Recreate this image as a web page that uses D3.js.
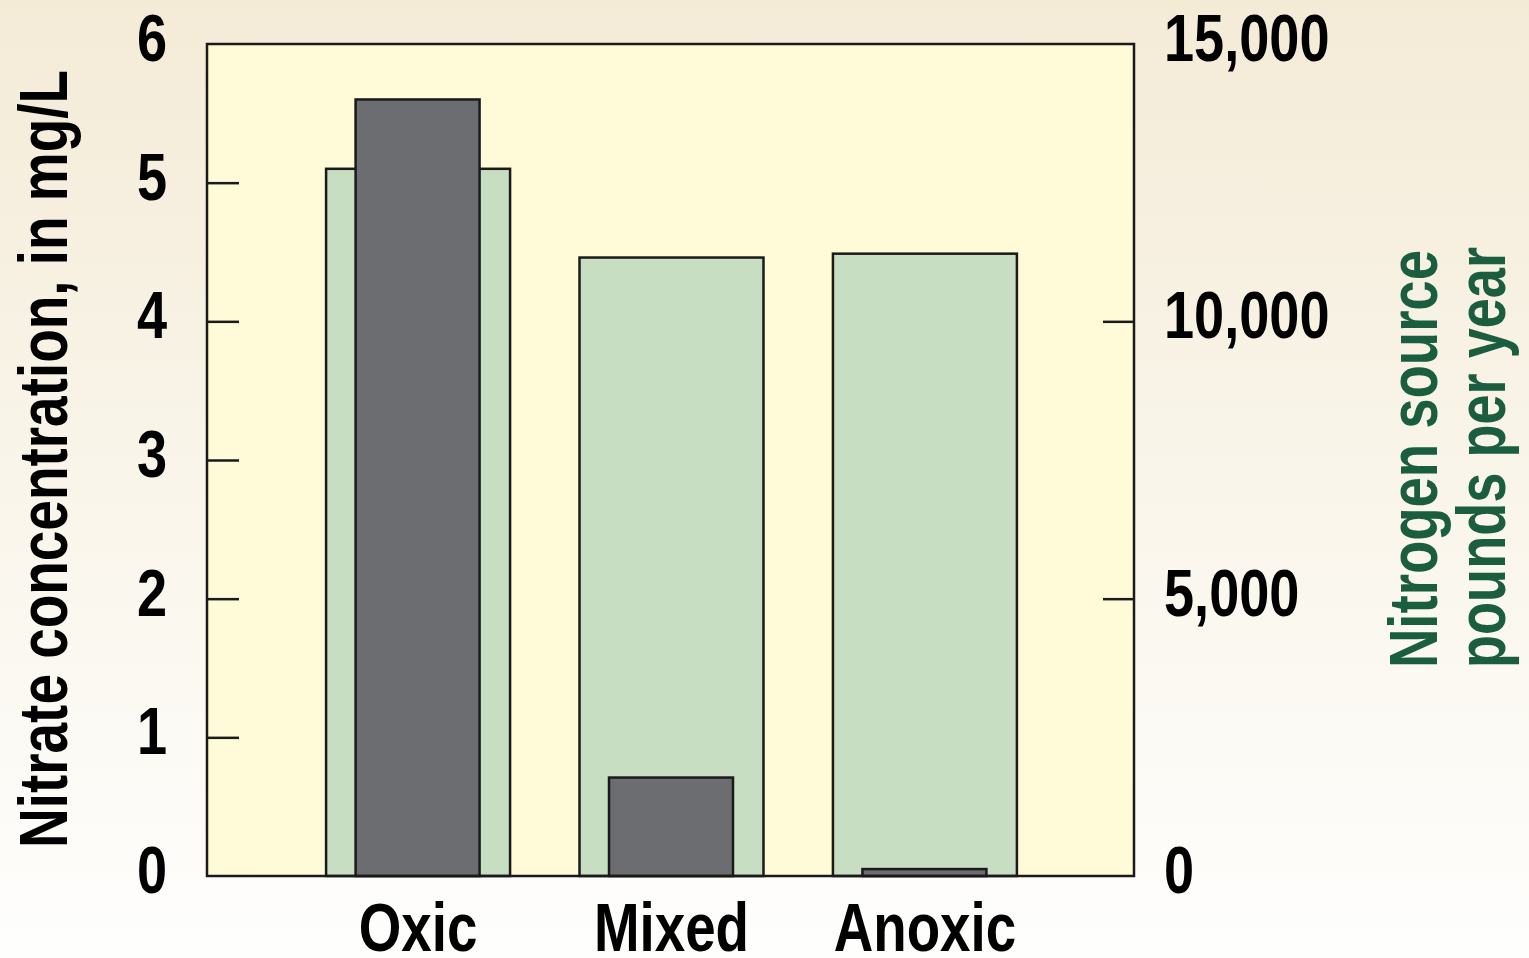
<!DOCTYPE html>
<html><head><meta charset="utf-8">
<script src="https://cdn.jsdelivr.net/npm/d3@7"></script>
<style>
html,body{margin:0;padding:0;}
svg{display:block;}
text{font-family:"Liberation Sans Narrow","Arial Narrow","Liberation Sans",Arial,sans-serif;font-weight:bold;}
</style></head>
<body>
<script>
const categories = ["Oxic", "Mixed", "Anoxic"];
const nitrogenSource = [12750, 11150, 11220];   // pounds per year (right axis)
const nitrateConc = [5.6, 0.71, 0.05];          // mg/L (left axis)
const leftTicks = [0, 1, 2, 3, 4, 5, 6];
const rightTicks = [0, 5000, 10000, 15000];

const W = 1529, H = 958;
const m = {l: 207, r: 1134, t: 44, b: 876};

const svg = d3.select("body").append("svg").attr("width", W).attr("height", H);
const defs = svg.append("defs");
const g = defs.append("linearGradient").attr("id","bg").attr("x1",0).attr("y1",0).attr("x2",0).attr("y2",1);
g.append("stop").attr("offset","0%").attr("stop-color","#f4ebd7");
g.append("stop").attr("offset","55%").attr("stop-color","#faf6ec");
g.append("stop").attr("offset","100%").attr("stop-color","#fefefd");
svg.append("rect").attr("width",W).attr("height",H).attr("fill","url(#bg)");

const x = d3.scaleBand().domain(categories).range([m.l, m.r]).paddingInner(0.274).paddingOuter(0.466);
const yL = d3.scaleLinear().domain([0, 6]).range([m.b, m.t]);
const yR = d3.scaleLinear().domain([0, 15000]).range([m.b, m.t]);

// plot area
svg.append("rect").attr("x", m.l).attr("y", m.t).attr("width", m.r - m.l).attr("height", m.b - m.t)
  .attr("fill", "#fffad8");

// green bars
svg.append("g").selectAll("rect").data(categories).join("rect")
  .attr("x", d => x(d) + 1)
  .attr("width", x.bandwidth())
  .attr("y", (d,i) => yR(nitrogenSource[i]))
  .attr("height", (d,i) => m.b - yR(nitrogenSource[i]))
  .attr("fill", "#c8dec3").attr("stroke", "#1a1a1a").attr("stroke-width", 2.5);

// grey bars
const gw = x.bandwidth() * 124 / 184;
svg.append("g").selectAll("rect").data(categories).join("rect")
  .attr("x", d => x(d) + (x.bandwidth() - gw) / 2 + 0.5)
  .attr("width", gw)
  .attr("y", (d,i) => yL(nitrateConc[i]))
  .attr("height", (d,i) => m.b - yL(nitrateConc[i]))
  .attr("fill", "#6c6d71").attr("stroke", "#1a1a1a").attr("stroke-width", 2.5);

// frame
svg.append("rect").attr("x", m.l).attr("y", m.t).attr("width", m.r - m.l).attr("height", m.b - m.t)
  .attr("fill", "none").attr("stroke", "#1a1a1a").attr("stroke-width", 2.5);

// left axis
const axL = d3.axisRight(yL).tickValues(leftTicks).tickSize(32).tickFormat("");
const gL = svg.append("g").attr("transform", `translate(${m.l},0)`).call(axL);
gL.select(".domain").remove();
gL.selectAll(".tick line").attr("stroke", "#1a1a1a").attr("stroke-width", 2.5)
  .filter(d => d === 0 || d === 6).remove();
svg.append("g").selectAll("text").data(leftTicks).join("text")
  .attr("transform", d => `translate(167,${yL(d) - 6}) scale(0.82,1)`)
  .attr("dy", "0.35em")
  .attr("text-anchor", "end").attr("font-size", 66).attr("fill", "#000")
  .text(d => d);

// right axis
const axR = d3.axisLeft(yR).tickValues(rightTicks).tickSize(31).tickFormat("");
const gR = svg.append("g").attr("transform", `translate(${m.r},0)`).call(axR);
gR.select(".domain").remove();
gR.selectAll(".tick line").attr("stroke", "#1a1a1a").attr("stroke-width", 2.5)
  .filter(d => d === 0 || d === 15000).remove();
svg.append("g").selectAll("text").data(rightTicks).join("text")
  .attr("transform", d => `translate(1164,${yR(d) - 6}) scale(0.82,1)`)
  .attr("dy", "0.35em")
  .attr("text-anchor", "start").attr("font-size", 66).attr("fill", "#000")
  .text(d => d3.format(",")(d));

// x labels
svg.append("g").selectAll("text").data(categories).join("text")
  .attr("transform", d => `translate(${x(d) + x.bandwidth() / 2 + 1},951) scale(0.805,1)`)
  .attr("text-anchor", "middle").attr("font-size", 68).attr("fill", "#000")
  .text(d => d);

// left title
svg.append("text").attr("transform", "translate(67,459) rotate(-90)")
  .attr("text-anchor", "middle").attr("font-size", 68).attr("fill", "#000")
  .attr("textLength", 778).attr("lengthAdjust", "spacingAndGlyphs")
  .text("Nitrate concentration, in mg/L");

// right title
svg.append("text").attr("transform", "translate(1437,668) rotate(-90)")
  .attr("text-anchor", "start").attr("font-size", 68).attr("fill", "#1a5e3f")
  .attr("textLength", 418).attr("lengthAdjust", "spacingAndGlyphs")
  .text("Nitrogen source");
svg.append("text").attr("transform", "translate(1505,668) rotate(-90)")
  .attr("text-anchor", "start").attr("font-size", 68).attr("fill", "#1a5e3f")
  .attr("textLength", 421).attr("lengthAdjust", "spacingAndGlyphs")
  .text("pounds per year");
</script>
</body></html>
